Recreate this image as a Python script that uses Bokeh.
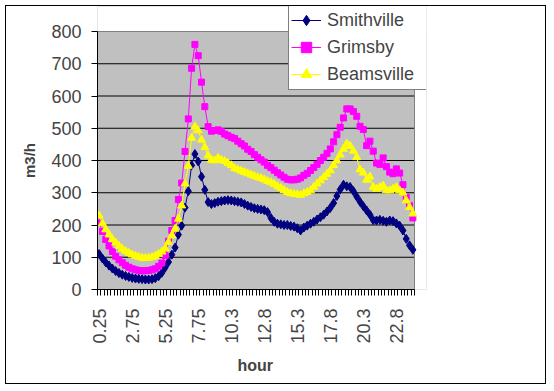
import math
from bokeh.plotting import figure
from bokeh.models import FixedTicker, Range1d, Legend, LegendItem, ColumnDataSource, BoxAnnotation
from bokeh.embed import file_html
from bokeh.resources import INLINE

hours = [0.25, 0.5, 0.75, 1.0, 1.25, 1.5, 1.75, 2.0, 2.25, 2.5, 2.75, 3.0,
         3.25, 3.5, 3.75, 4.0, 4.25, 4.5, 4.75, 5.0, 5.25, 5.5, 5.75, 6.0,
         6.25, 6.5, 6.75, 7.0, 7.25, 7.5, 7.75, 8.0, 8.25, 8.5, 8.75, 9.0,
         9.25, 9.5, 9.75, 10.0, 10.25, 10.5, 10.75, 11.0, 11.25, 11.5, 11.75, 12.0,
         12.25, 12.5, 12.75, 13.0, 13.25, 13.5, 13.75, 14.0, 14.25, 14.5, 14.75, 15.0,
         15.25, 15.5, 15.75, 16.0, 16.25, 16.5, 16.75, 17.0, 17.25, 17.5, 17.75, 18.0,
         18.25, 18.5, 18.75, 19.0, 19.25, 19.5, 19.75, 20.0, 20.25, 20.5, 20.75, 21.0,
         21.25, 21.5, 21.75, 22.0, 22.25, 22.5, 22.75, 23.0, 23.25, 23.5, 23.75, 24.0]

tick_labels = ["0.25", "2.75", "5.25", "7.75", "10.3", "12.8", "15.3", "17.8", "20.3", "22.8"]
y_ticks = [0, 100, 200, 300, 400, 500, 600, 700, 800]

smithville = [110, 96, 84, 74, 65, 57, 51, 46, 42, 39,
              36, 34, 33, 32, 31, 31, 32, 35, 41, 52,
              68, 85, 108, 130, 170, 198, 254, 305, 385, 420,
              397, 350, 309, 271, 265, 268, 272, 274, 276, 277,
              276, 274, 272, 270, 265, 260, 256, 252, 250, 248,
              246, 240, 222, 210, 204, 202, 200, 200, 197, 195,
              190, 183, 192, 198, 204, 210, 217, 224, 232, 242,
              253, 268, 290, 310, 325, 320, 318, 305, 288, 272,
              258, 245, 232, 215, 214, 216, 213, 210, 214, 212,
              205, 198, 183, 157, 137, 123]

grimsby = [207, 180, 155, 135, 118, 103, 92, 83, 75, 69,
           64, 61, 59, 58, 58, 59, 61, 64, 72, 82,
           105, 150, 183, 214, 279, 330, 428, 529, 686, 760,
           725, 643, 567, 505, 491, 493, 495, 490, 482, 477,
           472, 468, 460, 452, 445, 435, 428, 418, 410, 402,
           395, 385, 378, 370, 362, 355, 348, 342, 340, 340,
           342, 346, 354, 360, 369, 378, 388, 400, 410, 422,
           436, 458, 480, 503, 532, 560, 560, 552, 537, 506,
           496, 446, 460, 429, 392, 388, 408, 381, 364, 359,
           374, 361, 325, 286, 260, 222]

beamsville = [229, 205, 186, 170, 156, 145, 135, 126, 119, 113,
              108, 104, 101, 98, 97, 98, 100, 104, 110, 117,
              127, 147, 167, 188, 219, 260, 328, 383, 470, 505,
              493, 464, 441, 415, 402, 400, 408, 402, 398, 392,
              385, 376, 372, 368, 364, 360, 356, 352, 348, 345,
              341, 336, 332, 327, 320, 315, 308, 302, 298, 296,
              295, 293, 298, 302, 307, 318, 328, 338, 348, 358,
              369, 385, 400, 418, 436, 452, 445, 430, 410, 372,
              362, 340, 350, 318, 312, 317, 322, 307, 307, 312,
              317, 307, 300, 276, 255, 235]

n = len(hours)
xs = list(range(n))
src = ColumnDataSource(dict(x=xs, hour=hours, s=smithville, g=grimsby, b=beamsville))

FONT = "Liberation Sans"
NBSP = "\u00a0"

# layout (pixels): canvas 541x379; plot area 317x258; frame extended up/right
W, H = 541, 379
B_LEFT, B_BOTTOM, B_TOP, B_RIGHT = 91, 96, 0, 121
PLOT_W, PLOT_H = 317, 258
frame_w = W - B_LEFT - B_RIGHT
frame_h = H - B_TOP - B_BOTTOM
x0, x1 = -0.5, n - 0.5
y0, y1 = 0, 800
x_end = x0 + (x1 - x0) * frame_w / PLOT_W
y_end = y0 + (y1 - y0) * frame_h / PLOT_H

p = figure(width=W, height=H, output_backend="svg", toolbar_location=None,
           x_range=Range1d(x0, x_end), y_range=Range1d(y0, y_end),
           min_border_left=B_LEFT, min_border_right=B_RIGHT,
           min_border_top=B_TOP, min_border_bottom=B_BOTTOM,
           background_fill_color="#C0C0C0", border_fill_color="white",
           outline_line_color=None, margin=(5, 0, 0, 5))
p.styles = {"border": "1px solid black"}

# white out the extended parts of the frame
p.add_layout(BoxAnnotation(bottom=y1, fill_color="white", fill_alpha=1,
                           line_color=None, level="underlay"))
p.add_layout(BoxAnnotation(left=x1, fill_color="white", fill_alpha=1,
                           line_color=None, level="underlay"))

p.xgrid.visible = False
p.ygrid.visible = False
# horizontal gridlines at the y ticks
p.segment(x0=[x0] * len(y_ticks), x1=[x1] * len(y_ticks), y0=y_ticks, y1=y_ticks,
          line_color="black", line_width=1)
# plot-area outline (top and right, gray)
p.segment(x0=[x0, x1], y0=[y1, y0], x1=[x1, x1], y1=[y1, y1],
          line_color="#808080", line_width=1)

# y axis
p.yaxis.bounds = (y0, y1)
p.yaxis.ticker = FixedTicker(ticks=y_ticks)
p.yaxis.major_tick_out = 6
p.yaxis.major_tick_in = 0
p.yaxis.minor_tick_out = 0
p.yaxis.axis_line_color = "black"
p.yaxis.major_label_text_font = FONT
p.yaxis.major_label_text_font_size = "18px"
p.yaxis.major_label_standoff = 10
p.yaxis.axis_label = "m3/h" + NBSP * 6
p.yaxis.axis_label_text_font = FONT
p.yaxis.axis_label_text_font_size = "15px"
p.yaxis.axis_label_text_font_style = "bold"
p.yaxis.axis_label_standoff = 10

# x axis
p.xaxis.bounds = (x0, x1)
p.xaxis.ticker = FixedTicker(ticks=[k * 10 for k in range(len(tick_labels))],
                             minor_ticks=[i - 0.5 for i in range(n + 1)])
p.xaxis.major_label_overrides = {k * 10: lab for k, lab in enumerate(tick_labels)}
p.xaxis.major_tick_out = 0
p.xaxis.major_tick_in = 0
p.xaxis.minor_tick_out = 6
p.xaxis.minor_tick_in = 0
p.xaxis.minor_tick_line_color = "black"
p.xaxis.axis_line_color = "black"
p.xaxis.major_label_orientation = math.pi / 2
p.xaxis.major_label_text_font = FONT
p.xaxis.major_label_text_font_size = "18px"
p.xaxis.major_label_standoff = 13
p.xaxis.axis_label = "hour" + NBSP * 3
p.xaxis.axis_label_text_font = FONT
p.xaxis.axis_label_text_font_size = "16px"
p.xaxis.axis_label_text_font_style = "bold"
p.xaxis.axis_label_standoff = 10

NAVY, MAG, YEL = "#000080", "#FF00FF", "#FFFF00"

l1 = p.line("x", "s", source=src, line_color=NAVY, line_width=1)
m1 = p.scatter("x", "s", source=src, marker="diamond", size=9,
               fill_color=NAVY, line_color=NAVY)
l2 = p.line("x", "g", source=src, line_color=MAG, line_width=1)
m2 = p.scatter("x", "g", source=src, marker="square", size=6,
               fill_color=MAG, line_color=MAG)
l3 = p.line("x", "b", source=src, line_color=YEL, line_width=1)
m3 = p.scatter("x", "b", source=src, marker="triangle", size=8,
               fill_color=YEL, line_color=YEL)

legend = Legend(items=[LegendItem(label="Smithville", renderers=[l1, m1]),
                       LegendItem(label="Grimsby", renderers=[l2, m2]),
                       LegendItem(label="Beamsville", renderers=[l3, m3])],
                location=(191, 199), margin=0, padding=2, spacing=1,
                glyph_width=30, glyph_height=26, label_height=26, label_width=98,
                label_standoff=6, label_text_font=FONT, label_text_font_size="18px",
                border_line_color="black", border_line_width=1,
                background_fill_color="white", background_fill_alpha=1)
p.add_layout(legend)

open("out.html", "w").write(file_html(p, INLINE))
